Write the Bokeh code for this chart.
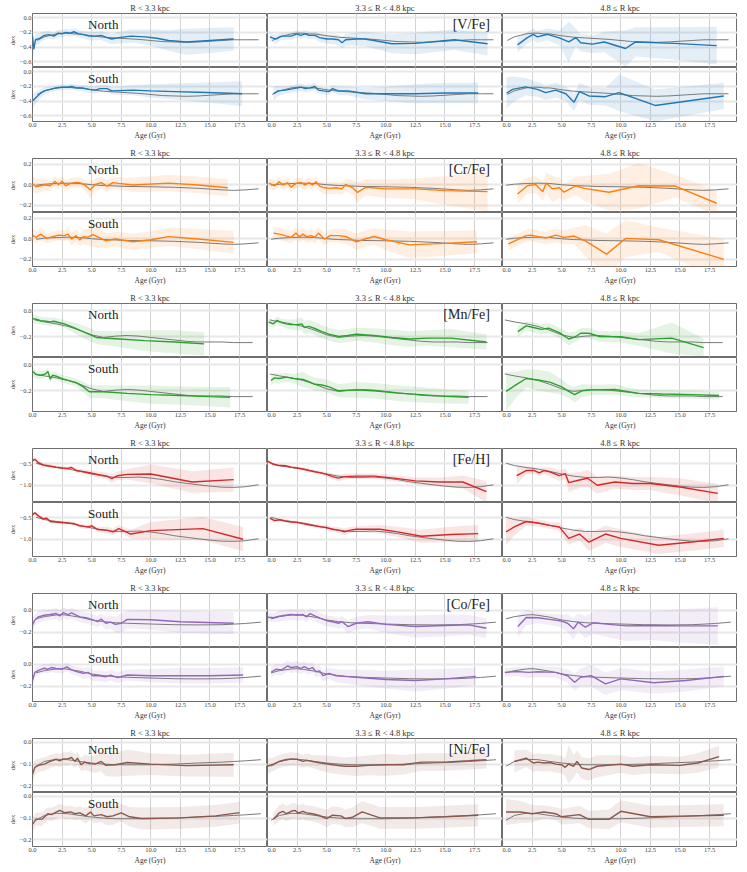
from bokeh.plotting import figure
from bokeh.layouts import gridplot
from bokeh.models import Range1d, FixedTicker, Label, CustomJSTickFormatter
from bokeh.embed import file_html
from bokeh.resources import INLINE

FONT = "Liberation Serif"
ELEMENTS = ["[V/Fe]", "[Cr/Fe]", "[Mn/Fe]", "[Fe/H]", "[Co/Fe]", "[Ni/Fe]"]
COLORS = ["#1f77b4", "#ff7f0e", "#2ca02c", "#d62728", "#9467bd", "#8c564b"]
RADIAL_BINS = ["R < 3.3 kpc", "3.3 \u2264 R < 4.8 kpc", "4.8 \u2264 R kpc"]
HEMIS = ["North", "South"]
X_TICKS = [0.0, 2.5, 5.0, 7.5, 10.0, 12.5, 15.0, 17.5]
X_MAX = 19.86
Y_LIMITS = [(-0.68, 0.06), (-0.27, 0.255), (-0.36, 0.057), (-1.40, -0.15), (-0.34, 0.15), (-0.23, 0.017)]
Y_TICKS = [[-0.6, -0.4, -0.2, 0.0], [-0.2, 0.0, 0.2], [-0.2, 0.0], [-1.0, -0.5], [-0.2, 0.0], [-0.2, -0.1, 0.0]]

# ---------------- model (gray) curves ----------------
V_MODEL_AGE = [0.4, 1.0, 1.5, 2.0, 2.5, 3.0, 3.5, 4.0, 5.0, 6.0, 7.0, 8.0, 9.0, 10.0, 11.0, 12.0, 13.0, 14.0, 15.0, 16.0, 17.0, 18.0, 19.1]
V_MODEL_DEX = [-0.31, -0.26, -0.24, -0.22, -0.21, -0.21, -0.22, -0.22, -0.245, -0.265, -0.275, -0.285, -0.295, -0.31, -0.325, -0.33, -0.335, -0.33, -0.32, -0.31, -0.30, -0.30, -0.30]
CR_MODEL_AGE = [0.3, 1, 2, 3, 4, 5, 6, 7, 8, 10, 12, 14, 16, 17, 18, 19.1]
CR_MODEL_DEX = [-0.005, 0.005, 0.012, 0.015, 0.012, 0.0, -0.008, -0.012, -0.017, -0.02, -0.025, -0.035, -0.05, -0.055, -0.05, -0.04]
MN_MODEL_AGE = [0.2, 1, 2, 3, 4, 5, 6, 7, 8, 9, 10, 11, 12, 13, 14, 16, 17, 18.6]
MN_MODEL_DEX = [-0.07, -0.085, -0.10, -0.12, -0.15, -0.185, -0.205, -0.195, -0.19, -0.195, -0.205, -0.215, -0.225, -0.235, -0.24, -0.24, -0.245, -0.245]
FE_MODEL_AGE = [0.3, 1, 2, 3, 4, 5, 6, 7, 8, 9, 10, 11, 12, 13, 14, 15, 16, 17, 18, 19.1]
FE_MODEL_DEX = [-0.49, -0.545, -0.59, -0.625, -0.68, -0.74, -0.79, -0.82, -0.82, -0.81, -0.835, -0.87, -0.92, -0.955, -0.99, -1.02, -1.045, -1.05, -1.035, -0.99]
CO_MODEL_AGE = [0.3, 1, 2, 2.5, 3, 4, 5, 6, 7, 8, 10, 12, 14, 16, 17, 18, 19.3]
CO_MODEL_DEX = [-0.08, -0.06, -0.045, -0.042, -0.048, -0.065, -0.09, -0.105, -0.115, -0.12, -0.127, -0.133, -0.135, -0.133, -0.128, -0.122, -0.11]
NI_MODEL_AGE = [0.3, 1, 2, 3, 4, 5, 6, 7, 8, 10, 12, 14, 16, 17, 18, 19.3]
NI_MODEL_DEX = [-0.11, -0.088, -0.078, -0.08, -0.088, -0.095, -0.10, -0.103, -0.103, -0.103, -0.10, -0.095, -0.091, -0.088, -0.085, -0.08]

# ---------------- [V/Fe] ----------------
V_N1_AGE = [0.0, 0.1, 0.25, 0.6, 1.0, 1.4, 1.8, 2.2, 2.5, 2.8, 3.2, 3.5, 3.9, 4.3, 4.8, 5.3, 5.8, 6.3, 6.7, 7.3, 8.3, 9.5, 10.5, 11.5, 13.0, 15.0, 17.0]
V_N1_DEX = [-0.25, -0.43, -0.30, -0.28, -0.24, -0.23, -0.25, -0.21, -0.22, -0.20, -0.21, -0.19, -0.22, -0.23, -0.25, -0.25, -0.24, -0.27, -0.29, -0.27, -0.25, -0.26, -0.28, -0.31, -0.33, -0.31, -0.29]
V_N1_ERR = [0.08, 0.10, 0.08, 0.07, 0.06, 0.05, 0.05, 0.05, 0.05, 0.05, 0.05, 0.05, 0.05, 0.05, 0.06, 0.06, 0.06, 0.07, 0.07, 0.08, 0.09, 0.10, 0.12, 0.14, 0.18, 0.17, 0.16]
V_S1_AGE = [0.0, 0.3, 0.7, 1.0, 1.5, 2.0, 2.5, 3.0, 3.3, 3.7, 4.2, 4.8, 5.3, 5.7, 6.3, 6.7, 8.5, 10.0, 12.0, 14.0, 16.0, 17.7]
V_S1_DEX = [-0.40, -0.35, -0.29, -0.26, -0.24, -0.22, -0.21, -0.21, -0.20, -0.22, -0.22, -0.24, -0.25, -0.23, -0.23, -0.26, -0.25, -0.26, -0.27, -0.28, -0.29, -0.30]
V_S1_ERR = [0.10, 0.08, 0.06, 0.05, 0.04, 0.04, 0.04, 0.04, 0.04, 0.04, 0.04, 0.05, 0.05, 0.05, 0.05, 0.05, 0.07, 0.09, 0.11, 0.13, 0.15, 0.17]
V_N2_AGE = [0.2, 0.7, 1.2, 2.0, 2.5, 2.8, 3.2, 3.5, 4.0, 4.4, 5.0, 5.5, 6.0, 6.3, 6.6, 7.5, 8.2, 9.0, 10.5, 12.5, 15.8, 18.6]
V_N2_DEX = [-0.26, -0.29, -0.25, -0.25, -0.22, -0.24, -0.22, -0.24, -0.24, -0.27, -0.29, -0.29, -0.30, -0.34, -0.30, -0.29, -0.29, -0.31, -0.355, -0.35, -0.30, -0.355]
V_N2_ERR = [0.06, 0.06, 0.05, 0.05, 0.05, 0.05, 0.05, 0.05, 0.05, 0.06, 0.06, 0.07, 0.07, 0.08, 0.08, 0.09, 0.10, 0.11, 0.13, 0.15, 0.14, 0.16]
V_S2_AGE = [0.5, 0.9, 1.5, 2.2, 2.8, 3.2, 3.6, 4.0, 4.3, 4.7, 5.2, 5.5, 6.0, 6.8, 7.5, 8.3, 10.0, 12.5, 15.0, 17.8]
V_S2_DEX = [-0.30, -0.26, -0.25, -0.23, -0.21, -0.23, -0.22, -0.20, -0.25, -0.26, -0.27, -0.23, -0.26, -0.26, -0.28, -0.30, -0.30, -0.30, -0.29, -0.29]
V_S2_ERR = [0.10, 0.07, 0.05, 0.05, 0.05, 0.05, 0.05, 0.05, 0.05, 0.05, 0.05, 0.05, 0.06, 0.06, 0.07, 0.08, 0.10, 0.13, 0.14, 0.14]
V_N3_AGE = [1.27, 2.1, 2.6, 2.95, 3.8, 4.8, 5.6, 6.2, 6.6, 7.6, 8.6, 10.4, 11.25, 14.5, 18.1]
V_N3_DEX = [-0.37, -0.27, -0.225, -0.26, -0.225, -0.275, -0.33, -0.27, -0.34, -0.36, -0.33, -0.42, -0.33, -0.35, -0.38]
V_N3_ERR = [0.10, 0.08, 0.08, 0.08, 0.08, 0.10, 0.28, 0.12, 0.12, 0.12, 0.14, 0.25, 0.20, 0.22, 0.26]
V_S3_AGE = [0.35, 0.85, 1.95, 2.95, 3.65, 4.5, 5.35, 6.05, 6.5, 7.3, 8.7, 9.85, 12.9, 18.7]
V_S3_DEX = [-0.29, -0.24, -0.205, -0.24, -0.285, -0.25, -0.30, -0.415, -0.27, -0.33, -0.34, -0.285, -0.46, -0.33]
V_S3_ERR = [0.22, 0.18, 0.12, 0.10, 0.10, 0.10, 0.10, 0.12, 0.12, 0.12, 0.12, 0.25, 0.22, 0.18]

# ---------------- [Cr/Fe] ----------------
CR_N1_AGE = [0.0, 0.3, 1.0, 1.5, 1.9, 2.2, 2.5, 2.8, 3.2, 3.6, 4.0, 4.4, 4.9, 5.3, 5.8, 6.3, 6.8, 7.3, 8.5, 11.5, 14.0, 16.5]
CR_N1_DEX = [0.013, -0.02, 0.0, -0.01, 0.035, 0.0, 0.035, -0.01, 0.013, 0.022, 0.02, -0.003, -0.05, 0.003, 0.02, -0.013, 0.02, 0.013, -0.003, 0.016, -0.003, -0.03]
CR_N1_ERR = [0.08, 0.07, 0.06, 0.05, 0.05, 0.05, 0.05, 0.05, 0.05, 0.05, 0.05, 0.05, 0.08, 0.06, 0.06, 0.06, 0.06, 0.06, 0.07, 0.08, 0.08, 0.085]
CR_S1_AGE = [0.0, 0.3, 0.7, 1.2, 1.7, 2.2, 2.7, 3.0, 3.3, 3.7, 4.0, 4.3, 4.7, 5.1, 5.6, 6.2, 7.0, 8.5, 10.0, 11.5, 14.0, 17.0]
CR_S1_DEX = [0.035, 0.013, 0.045, 0.003, 0.02, 0.035, 0.03, 0.045, -0.003, 0.03, -0.013, 0.02, 0.016, 0.04, 0.013, -0.02, -0.003, -0.03, -0.01, 0.02, -0.003, -0.035]
CR_S1_ERR = [0.06, 0.06, 0.06, 0.05, 0.05, 0.05, 0.05, 0.06, 0.06, 0.06, 0.06, 0.07, 0.08, 0.12, 0.10, 0.07, 0.07, 0.08, 0.08, 0.09, 0.10, 0.11]
CR_N2_AGE = [0.1, 0.6, 1.0, 1.3, 1.7, 2.0, 2.4, 2.8, 3.2, 3.5, 3.8, 4.1, 4.4, 4.8, 5.3, 5.8, 6.3, 6.6, 7.2, 7.6, 8.3, 10.0, 12.5, 15.0, 18.6]
CR_N2_DEX = [0.016, -0.01, 0.03, -0.003, 0.02, -0.025, 0.013, 0.022, -0.003, 0.022, -0.003, 0.03, -0.013, -0.03, -0.035, -0.03, -0.04, 0.003, -0.03, -0.075, -0.025, -0.04, -0.04, -0.057, -0.067]
CR_N2_ERR = [0.05, 0.05, 0.05, 0.05, 0.05, 0.05, 0.05, 0.05, 0.05, 0.05, 0.05, 0.05, 0.05, 0.06, 0.06, 0.06, 0.06, 0.06, 0.07, 0.10, 0.08, 0.09, 0.10, 0.14, 0.19]
CR_S2_AGE = [0.5, 1.0, 1.5, 2.0, 2.4, 2.7, 3.0, 3.3, 3.7, 4.0, 4.3, 4.8, 5.3, 6.0, 6.6, 7.5, 8.3, 9.0, 10.0, 12.0, 15.0, 17.7]
CR_S2_DEX = [0.055, 0.045, 0.03, 0.013, 0.055, 0.02, 0.045, 0.02, 0.03, 0.013, 0.055, -0.003, 0.03, 0.03, 0.022, -0.03, 0.0, 0.022, -0.01, -0.06, -0.045, -0.03]
CR_S2_ERR = [0.06, 0.06, 0.06, 0.06, 0.06, 0.06, 0.06, 0.06, 0.06, 0.06, 0.06, 0.06, 0.06, 0.07, 0.07, 0.08, 0.08, 0.08, 0.10, 0.13, 0.12, 0.11]
CR_N3_AGE = [1.27, 2.1, 2.8, 3.4, 3.7, 4.2, 4.8, 5.2, 6.2, 6.9, 9.0, 11.5, 14.6, 18.1]
CR_N3_DEX = [-0.09, -0.01, 0.003, -0.067, 0.016, -0.04, -0.03, -0.073, -0.01, -0.035, -0.073, -0.01, -0.013, -0.18]
CR_N3_ERR = [0.10, 0.08, 0.08, 0.09, 0.10, 0.13, 0.10, 0.08, 0.09, 0.12, 0.18, 0.22, 0.11, 0.12]
CR_S3_AGE = [0.5, 2.0, 2.4, 3.65, 4.5, 5.2, 6.05, 7.0, 8.8, 10.4, 13.2, 18.7]
CR_S3_DEX = [-0.05, 0.03, 0.035, 0.006, 0.035, 0.013, 0.026, -0.02, -0.15, 0.003, -0.01, -0.2]
CR_S3_ERR = [0.06, 0.06, 0.06, 0.06, 0.07, 0.07, 0.08, 0.15, 0.20, 0.18, 0.12, 0.20]

# ---------------- [Mn/Fe] ----------------
MN_N1_AGE = [0.0, 0.3, 0.7, 1.1, 1.5, 1.8, 2.2, 2.7, 3.5, 4.5, 5.4, 7.0, 9.5, 12.0, 14.5]
MN_N1_DEX = [-0.06, -0.065, -0.075, -0.08, -0.085, -0.08, -0.09, -0.10, -0.13, -0.17, -0.205, -0.215, -0.23, -0.24, -0.255]
MN_N1_ERR = [0.04, 0.03, 0.03, 0.03, 0.03, 0.03, 0.03, 0.03, 0.04, 0.05, 0.05, 0.06, 0.08, 0.09, 0.09]
MN_S1_AGE = [0.0, 0.3, 0.7, 1.1, 1.3, 1.5, 1.7, 2.0, 2.5, 3.0, 3.7, 4.3, 4.8, 6.0, 8.0, 10.0, 12.5, 15.0, 16.7]
MN_S1_DEX = [-0.05, -0.075, -0.08, -0.07, -0.05, -0.11, -0.08, -0.087, -0.107, -0.12, -0.137, -0.17, -0.207, -0.207, -0.22, -0.23, -0.237, -0.245, -0.25]
MN_S1_ERR = [0.04, 0.03, 0.03, 0.03, 0.03, 0.03, 0.03, 0.03, 0.03, 0.03, 0.03, 0.04, 0.05, 0.05, 0.06, 0.07, 0.07, 0.075, 0.08]
MN_N2_AGE = [0.1, 0.5, 0.8, 1.2, 1.6, 2.0, 2.5, 2.9, 3.1, 3.5, 4.0, 4.6, 5.2, 6.0, 6.8, 7.5, 9.0, 10.5, 12.0, 13.5, 15.5, 18.5]
MN_N2_DEX = [-0.086, -0.10, -0.074, -0.09, -0.10, -0.106, -0.106, -0.10, -0.128, -0.12, -0.136, -0.16, -0.18, -0.198, -0.19, -0.18, -0.19, -0.205, -0.217, -0.21, -0.21, -0.24]
MN_N2_ERR = [0.03, 0.03, 0.03, 0.03, 0.035, 0.04, 0.045, 0.05, 0.05, 0.05, 0.05, 0.05, 0.05, 0.05, 0.05, 0.05, 0.055, 0.06, 0.06, 0.06, 0.07, 0.06]
MN_S2_AGE = [0.3, 0.6, 1.0, 1.6, 2.2, 3.0, 3.5, 4.0, 4.6, 5.2, 6.0, 7.5, 9.0, 11.0, 13.0, 15.0, 17.0]
MN_S2_DEX = [-0.12, -0.10, -0.105, -0.095, -0.105, -0.113, -0.13, -0.15, -0.155, -0.17, -0.20, -0.193, -0.20, -0.218, -0.23, -0.243, -0.25]
MN_S2_ERR = [0.04, 0.04, 0.04, 0.035, 0.035, 0.06, 0.05, 0.05, 0.05, 0.05, 0.05, 0.06, 0.06, 0.06, 0.06, 0.055, 0.05]
MN_N3_AGE = [1.3, 2.0, 2.7, 3.3, 3.9, 4.8, 5.6, 6.2, 6.6, 7.3, 8.2, 10.0, 11.5, 14.3, 17.0]
MN_N3_DEX = [-0.16, -0.116, -0.13, -0.143, -0.133, -0.168, -0.217, -0.198, -0.173, -0.173, -0.198, -0.20, -0.222, -0.21, -0.284]
MN_N3_ERR = [0.04, 0.035, 0.04, 0.04, 0.04, 0.04, 0.05, 0.04, 0.04, 0.04, 0.04, 0.045, 0.05, 0.12, 0.07]
MN_S3_AGE = [0.3, 1.2, 2.0, 3.0, 4.0, 5.0, 5.6, 6.1, 6.7, 7.5, 9.5, 11.5, 13.5, 16.0, 18.3]
MN_S3_DEX = [-0.205, -0.15, -0.105, -0.117, -0.133, -0.17, -0.205, -0.23, -0.20, -0.193, -0.19, -0.22, -0.225, -0.23, -0.237]
MN_S3_ERR = [0.15, 0.10, 0.07, 0.08, 0.08, 0.06, 0.05, 0.06, 0.05, 0.04, 0.04, 0.03, 0.03, 0.03, 0.03]

# ---------------- [Fe/H] ----------------
FE_N1_AGE = [0.0, 0.2, 0.5, 0.9, 1.3, 2.0, 2.5, 3.0, 3.3, 3.7, 4.2, 4.8, 5.5, 6.3, 6.7, 7.2, 8.0, 10.0, 13.5, 17.0]
FE_N1_DEX = [-0.43, -0.40, -0.48, -0.53, -0.55, -0.58, -0.60, -0.61, -0.59, -0.66, -0.68, -0.71, -0.75, -0.79, -0.85, -0.78, -0.75, -0.74, -0.925, -0.87]
FE_N1_ERR = [0.04, 0.04, 0.04, 0.04, 0.04, 0.04, 0.04, 0.04, 0.04, 0.05, 0.05, 0.06, 0.07, 0.08, 0.10, 0.10, 0.12, 0.22, 0.25, 0.28]
FE_S1_AGE = [0.0, 0.2, 0.5, 0.9, 1.2, 1.5, 2.0, 3.0, 3.5, 4.0, 4.7, 5.0, 5.5, 6.3, 6.8, 7.3, 8.3, 10.0, 14.4, 17.8]
FE_S1_DEX = [-0.43, -0.39, -0.46, -0.53, -0.515, -0.59, -0.60, -0.625, -0.64, -0.69, -0.715, -0.69, -0.775, -0.79, -0.83, -0.755, -0.88, -0.80, -0.755, -1.0]
FE_S1_ERR = [0.04, 0.04, 0.04, 0.04, 0.04, 0.04, 0.04, 0.04, 0.045, 0.05, 0.05, 0.05, 0.06, 0.08, 0.08, 0.08, 0.10, 0.20, 0.27, 0.28]
FE_N2_AGE = [0.0, 0.5, 1.0, 1.5, 2.0, 2.5, 3.0, 3.5, 4.0, 4.5, 5.0, 5.5, 6.0, 6.5, 7.5, 9.0, 10.5, 12.5, 14.5, 16.5, 18.5]
FE_N2_DEX = [-0.44, -0.515, -0.545, -0.55, -0.58, -0.60, -0.625, -0.66, -0.69, -0.715, -0.75, -0.80, -0.835, -0.80, -0.79, -0.79, -0.83, -0.90, -0.925, -0.925, -1.15]
FE_N2_ERR = [0.03, 0.03, 0.03, 0.03, 0.03, 0.03, 0.04, 0.04, 0.04, 0.05, 0.05, 0.07, 0.08, 0.07, 0.06, 0.06, 0.07, 0.08, 0.10, 0.15, 0.25]
FE_S2_AGE = [0.2, 0.6, 1.0, 1.5, 2.0, 2.5, 3.0, 3.5, 4.0, 4.5, 5.0, 5.5, 6.0, 6.5, 7.0, 7.5, 9.5, 11.0, 13.0, 15.5, 17.8]
FE_S2_DEX = [-0.51, -0.57, -0.55, -0.58, -0.60, -0.61, -0.64, -0.665, -0.69, -0.715, -0.73, -0.77, -0.79, -0.83, -0.79, -0.77, -0.77, -0.83, -0.93, -0.89, -0.87]
FE_S2_ERR = [0.04, 0.04, 0.04, 0.04, 0.04, 0.04, 0.04, 0.04, 0.04, 0.045, 0.05, 0.06, 0.07, 0.08, 0.07, 0.07, 0.10, 0.12, 0.15, 0.18, 0.20]
FE_N3_AGE = [1.2, 2.0, 2.7, 3.1, 3.5, 4.0, 4.8, 5.3, 5.6, 6.5, 7.2, 8.0, 9.5, 11.0, 12.5, 15.0, 18.2]
FE_N3_DEX = [-0.78, -0.66, -0.66, -0.715, -0.66, -0.69, -0.78, -0.73, -0.94, -0.88, -0.84, -1.0, -0.925, -0.96, -0.96, -1.04, -1.19]
FE_N3_ERR = [0.20, 0.10, 0.08, 0.08, 0.08, 0.10, 0.12, 0.12, 0.22, 0.18, 0.20, 0.20, 0.15, 0.15, 0.15, 0.20, 0.22]
FE_S3_AGE = [0.3, 1.0, 2.0, 3.0, 4.0, 4.8, 5.6, 6.5, 7.3, 8.7, 10.0, 13.2, 16.0, 18.7]
FE_S3_DEX = [-0.83, -0.715, -0.59, -0.625, -0.68, -0.715, -0.98, -0.88, -1.07, -0.88, -0.98, -1.14, -1.065, -0.98]
FE_S3_ERR = [0.30, 0.20, 0.10, 0.08, 0.08, 0.10, 0.15, 0.15, 0.20, 0.20, 0.20, 0.20, 0.20, 0.20]

# ---------------- [Co/Fe] ----------------
CO_N1_AGE = [0.0, 0.2, 0.5, 1.0, 1.5, 2.0, 2.3, 2.6, 3.0, 3.3, 3.7, 4.0, 4.5, 5.0, 5.5, 5.8, 6.2, 6.6, 7.0, 7.5, 8.0, 10.0, 12.5, 17.0]
CO_N1_DEX = [-0.135, -0.09, -0.062, -0.047, -0.041, -0.032, -0.053, -0.024, -0.041, -0.026, -0.047, -0.062, -0.07, -0.085, -0.106, -0.082, -0.12, -0.11, -0.13, -0.12, -0.085, -0.088, -0.106, -0.12]
CO_N1_ERR = [0.06, 0.05, 0.05, 0.05, 0.05, 0.05, 0.05, 0.05, 0.05, 0.05, 0.05, 0.05, 0.05, 0.05, 0.05, 0.05, 0.06, 0.06, 0.07, 0.09, 0.08, 0.09, 0.10, 0.10]
CO_S1_AGE = [0.0, 0.2, 0.6, 1.0, 1.3, 1.6, 2.0, 2.5, 2.9, 3.3, 3.8, 4.3, 4.7, 5.1, 5.6, 6.2, 6.6, 7.2, 8.0, 10.0, 12.5, 15.0, 17.8]
CO_S1_DEX = [-0.15, -0.076, -0.053, -0.038, -0.047, -0.032, -0.041, -0.047, -0.026, -0.053, -0.07, -0.085, -0.076, -0.106, -0.106, -0.115, -0.10, -0.123, -0.10, -0.106, -0.106, -0.106, -0.10]
CO_S1_ERR = [0.05, 0.05, 0.04, 0.04, 0.04, 0.04, 0.04, 0.04, 0.04, 0.04, 0.04, 0.05, 0.05, 0.05, 0.05, 0.05, 0.05, 0.05, 0.05, 0.06, 0.07, 0.07, 0.07]
CO_N2_AGE = [0.0, 0.5, 1.0, 1.5, 2.0, 2.5, 3.0, 3.3, 3.6, 4.0, 4.5, 5.0, 5.5, 6.0, 6.3, 6.8, 7.5, 8.5, 10.0, 12.5, 15.0, 17.0, 18.5]
CO_N2_DEX = [-0.065, -0.07, -0.056, -0.047, -0.041, -0.047, -0.041, -0.062, -0.032, -0.053, -0.076, -0.097, -0.106, -0.12, -0.106, -0.15, -0.12, -0.106, -0.13, -0.15, -0.141, -0.135, -0.165]
CO_N2_ERR = [0.04, 0.04, 0.05, 0.05, 0.05, 0.05, 0.05, 0.05, 0.05, 0.05, 0.05, 0.05, 0.05, 0.05, 0.05, 0.06, 0.06, 0.06, 0.08, 0.10, 0.10, 0.09, 0.09]
CO_S2_AGE = [0.3, 0.7, 1.2, 1.7, 2.0, 2.5, 2.8, 3.1, 3.5, 3.8, 4.1, 4.4, 4.7, 5.2, 5.8, 6.5, 7.5, 10.0, 12.5, 15.0, 17.6]
CO_S2_DEX = [-0.076, -0.047, -0.053, -0.018, -0.032, -0.024, -0.041, -0.024, -0.047, -0.032, -0.07, -0.062, -0.106, -0.085, -0.106, -0.112, -0.12, -0.141, -0.15, -0.135, -0.112]
CO_S2_ERR = [0.05, 0.05, 0.05, 0.05, 0.05, 0.05, 0.05, 0.05, 0.05, 0.05, 0.05, 0.05, 0.05, 0.05, 0.06, 0.06, 0.07, 0.08, 0.10, 0.09, 0.08]
CO_N3_AGE = [1.3, 2.0, 3.0, 4.0, 5.0, 5.5, 6.0, 6.4, 7.0, 7.7, 9.0, 10.5, 12.5, 15.0, 18.2]
CO_N3_DEX = [-0.15, -0.068, -0.07, -0.085, -0.10, -0.12, -0.17, -0.11, -0.156, -0.115, -0.13, -0.144, -0.141, -0.144, -0.144]
CO_N3_ERR = [0.10, 0.07, 0.05, 0.05, 0.06, 0.08, 0.10, 0.08, 0.10, 0.10, 0.12, 0.14, 0.13, 0.15, 0.17]
CO_S3_AGE = [0.2, 1.2, 2.2, 3.0, 4.5, 5.5, 6.1, 6.6, 7.5, 8.7, 10.0, 12.8, 15.5, 18.7]
CO_S3_DEX = [-0.076, -0.068, -0.076, -0.07, -0.076, -0.106, -0.165, -0.12, -0.106, -0.18, -0.135, -0.17, -0.15, -0.112]
CO_S3_ERR = [0.04, 0.04, 0.05, 0.05, 0.05, 0.06, 0.08, 0.08, 0.10, 0.10, 0.10, 0.10, 0.10, 0.09]

# ---------------- [Ni/Fe] ----------------
NI_N1_AGE = [0.0, 0.2, 0.5, 1.0, 1.5, 2.0, 2.3, 2.6, 3.0, 3.3, 3.6, 3.8, 4.1, 4.4, 4.8, 5.3, 5.8, 6.2, 7.0, 8.0, 10.0, 13.0, 17.0]
NI_N1_DEX = [-0.148, -0.115, -0.106, -0.10, -0.088, -0.078, -0.085, -0.076, -0.076, -0.07, -0.088, -0.073, -0.103, -0.091, -0.098, -0.10, -0.088, -0.106, -0.103, -0.093, -0.10, -0.107, -0.103]
NI_N1_ERR = [0.04, 0.035, 0.03, 0.03, 0.03, 0.03, 0.03, 0.03, 0.03, 0.03, 0.03, 0.03, 0.03, 0.035, 0.035, 0.04, 0.045, 0.05, 0.055, 0.06, 0.05, 0.05, 0.055]
NI_S1_AGE = [0.0, 0.3, 0.8, 1.3, 1.6, 2.3, 2.7, 3.2, 3.6, 4.0, 4.5, 4.9, 5.2, 5.8, 6.3, 6.8, 7.5, 8.2, 9.2, 12.5, 15.5, 17.5]
NI_S1_DEX = [-0.129, -0.105, -0.105, -0.08, -0.084, -0.065, -0.075, -0.072, -0.08, -0.076, -0.09, -0.072, -0.09, -0.084, -0.094, -0.09, -0.076, -0.094, -0.102, -0.099, -0.09, -0.075]
NI_S1_ERR = [0.03, 0.03, 0.03, 0.03, 0.03, 0.03, 0.03, 0.03, 0.03, 0.03, 0.035, 0.035, 0.035, 0.035, 0.04, 0.04, 0.04, 0.045, 0.05, 0.05, 0.05, 0.05]
NI_N2_AGE = [0.0, 0.5, 1.0, 1.5, 2.0, 2.5, 3.0, 3.3, 3.8, 4.5, 5.5, 6.5, 7.5, 8.5, 10.0, 11.5, 13.0, 15.0, 17.0, 18.5]
NI_N2_DEX = [-0.11, -0.10, -0.088, -0.08, -0.076, -0.078, -0.088, -0.083, -0.088, -0.095, -0.103, -0.11, -0.11, -0.106, -0.103, -0.103, -0.091, -0.091, -0.085, -0.08]
NI_N2_ERR = [0.035, 0.03, 0.03, 0.03, 0.03, 0.03, 0.03, 0.03, 0.03, 0.035, 0.04, 0.04, 0.045, 0.045, 0.05, 0.045, 0.04, 0.04, 0.04, 0.04]
NI_S2_AGE = [0.5, 1.0, 1.3, 1.6, 2.0, 2.3, 2.6, 3.0, 3.3, 3.8, 4.3, 5.0, 5.5, 6.2, 6.6, 7.2, 8.0, 9.5, 12.5, 15.0, 17.8]
NI_S2_DEX = [-0.105, -0.076, -0.069, -0.08, -0.069, -0.065, -0.076, -0.069, -0.076, -0.08, -0.087, -0.102, -0.087, -0.09, -0.102, -0.096, -0.072, -0.099, -0.099, -0.094, -0.087]
NI_S2_ERR = [0.03, 0.035, 0.035, 0.035, 0.035, 0.035, 0.035, 0.035, 0.035, 0.035, 0.035, 0.04, 0.04, 0.04, 0.04, 0.045, 0.05, 0.05, 0.05, 0.05, 0.05]
NI_N3_AGE = [1.0, 2.0, 2.6, 3.0, 3.5, 4.0, 4.5, 5.0, 5.3, 5.6, 6.0, 6.3, 6.7, 7.3, 8.0, 10.0, 11.0, 12.5, 15.0, 16.5, 18.3]
NI_N3_DEX = [-0.088, -0.073, -0.095, -0.091, -0.095, -0.093, -0.10, -0.103, -0.115, -0.10, -0.11, -0.088, -0.118, -0.125, -0.11, -0.10, -0.11, -0.103, -0.106, -0.095, -0.066]
NI_N3_ERR = [0.05, 0.04, 0.04, 0.04, 0.04, 0.04, 0.04, 0.04, 0.04, 0.09, 0.05, 0.05, 0.05, 0.05, 0.05, 0.04, 0.04, 0.04, 0.04, 0.045, 0.05]
NI_S3_AGE = [0.3, 1.5, 2.5, 3.5, 4.5, 5.0, 6.5, 7.3, 9.0, 10.0, 12.5, 15.0, 18.7]
NI_S3_DEX = [-0.072, -0.072, -0.08, -0.072, -0.08, -0.094, -0.084, -0.106, -0.106, -0.069, -0.094, -0.091, -0.087]
NI_S3_ERR = [0.06, 0.05, 0.04, 0.03, 0.03, 0.035, 0.04, 0.04, 0.045, 0.05, 0.05, 0.05, 0.05]

g = globals()
PREFIXES = ["V", "CR", "MN", "FE", "CO", "NI"]

FW = 235          # frame width of each panel
FH = 54           # frame height of each panel
LEFT = 32
TOP_FIRST = 12
TOP_GROUP = 16
BOTTOM = 20

tick_fmt = CustomJSTickFormatter(code="return tick.toFixed(1).replace('-', '\\u2212');")


def style_axis(ax, label):
    ax.axis_label = label
    ax.axis_label_text_font = FONT
    ax.axis_label_text_font_size = "7.5px"
    ax.axis_label_text_font_style = "normal"
    ax.axis_label_text_color = "#333333"
    ax.axis_label_standoff = 1
    ax.major_label_text_font = FONT
    ax.major_label_text_font_size = "6.5px"
    ax.major_label_text_color = "#444444"
    ax.major_label_standoff = 1
    ax.axis_line_color = None
    ax.major_tick_line_color = None
    ax.minor_tick_line_color = None
    ax.major_tick_out = 0
    ax.major_tick_in = 0
    ax.minor_tick_out = 0
    ax.minor_tick_in = 0
    ax.formatter = tick_fmt


rows = []
for gi, pre in enumerate(PREFIXES):
    model_age = g[pre + "_MODEL_AGE"]
    model_dex = g[pre + "_MODEL_DEX"]
    color = COLORS[gi]
    for hi, hemi in enumerate(HEMIS):
        row = []
        for ci in range(3):
            key = "%s_%s%d" % (pre, "N" if hi == 0 else "S", ci + 1)
            age = g[key + "_AGE"]
            dex = g[key + "_DEX"]
            err = g[key + "_ERR"]
            is_top = hi == 0
            is_bottom = hi == 1
            is_left = ci == 0
            kw = dict(
                frame_width=FW, frame_height=FH,
                x_range=Range1d(0, X_MAX), y_range=Range1d(*Y_LIMITS[gi]),
                output_backend="svg", toolbar_location=None,
                x_axis_location="below" if is_bottom else None,
                y_axis_location="left" if is_left else None,
                min_border_left=LEFT if is_left else 0,
                min_border_right=0,
                min_border_top=(TOP_FIRST if gi == 0 else TOP_GROUP) if is_top else 0,
                min_border_bottom=BOTTOM if is_bottom else 0,
                background_fill_color="white", border_fill_color="white",
                outline_line_color="#555555", outline_line_width=1, outline_line_alpha=0.85,
            )
            if is_top:
                kw["title"] = RADIAL_BINS[ci]
            p = figure(**kw)
            if is_top:
                p.title.text_font = FONT
                p.title.text_font_size = "8.5px"
                p.title.text_font_style = "normal"
                p.title.text_color = "#333333"
                p.title.align = "center"
                p.title.standoff = 1
                p.title.offset = 0
            p.xgrid.ticker = FixedTicker(ticks=X_TICKS)
            p.ygrid.ticker = FixedTicker(ticks=Y_TICKS[gi])
            p.xgrid.grid_line_color = "#c8c8c8"
            p.xgrid.grid_line_width = 0.8
            p.ygrid.grid_line_color = "#e8e8e8"
            p.ygrid.grid_line_width = 2.0
            if is_bottom:
                p.xaxis.ticker = FixedTicker(ticks=X_TICKS)
                style_axis(p.xaxis[0], "Age (Gyr)")
            if is_left:
                p.yaxis.ticker = FixedTicker(ticks=Y_TICKS[gi])
                style_axis(p.yaxis[0], "dex")
                p.yaxis.axis_label_text_font_size = "6.5px"

            lo = [d - e for d, e in zip(dex, err)]
            hi_band = [d + e for d, e in zip(dex, err)]
            p.varea(x=age, y1=lo, y2=hi_band, fill_color=color, fill_alpha=0.12)
            p.line(model_age, model_dex, line_color="#7a7a7a", line_width=1.0)
            p.line(age, dex, line_color=color, line_width=1.4)

            if is_left:
                p.add_layout(Label(x=4.7, y=FH - 3, x_units="data", y_units="screen",
                                   text=hemi, text_font=FONT, text_font_size="13px",
                                   text_baseline="top", text_color="#222222"))
            if ci == 1 and is_top:
                p.add_layout(Label(x=18.8, y=FH - 3, x_units="data", y_units="screen",
                                   text=ELEMENTS[gi], text_font=FONT, text_font_size="14px",
                                   text_baseline="top", text_align="right", text_color="#222222"))
            row.append(p)
        rows.append(row)

grid = gridplot(rows, toolbar_location=None)
open("out.html", "w").write(file_html(grid, INLINE))
